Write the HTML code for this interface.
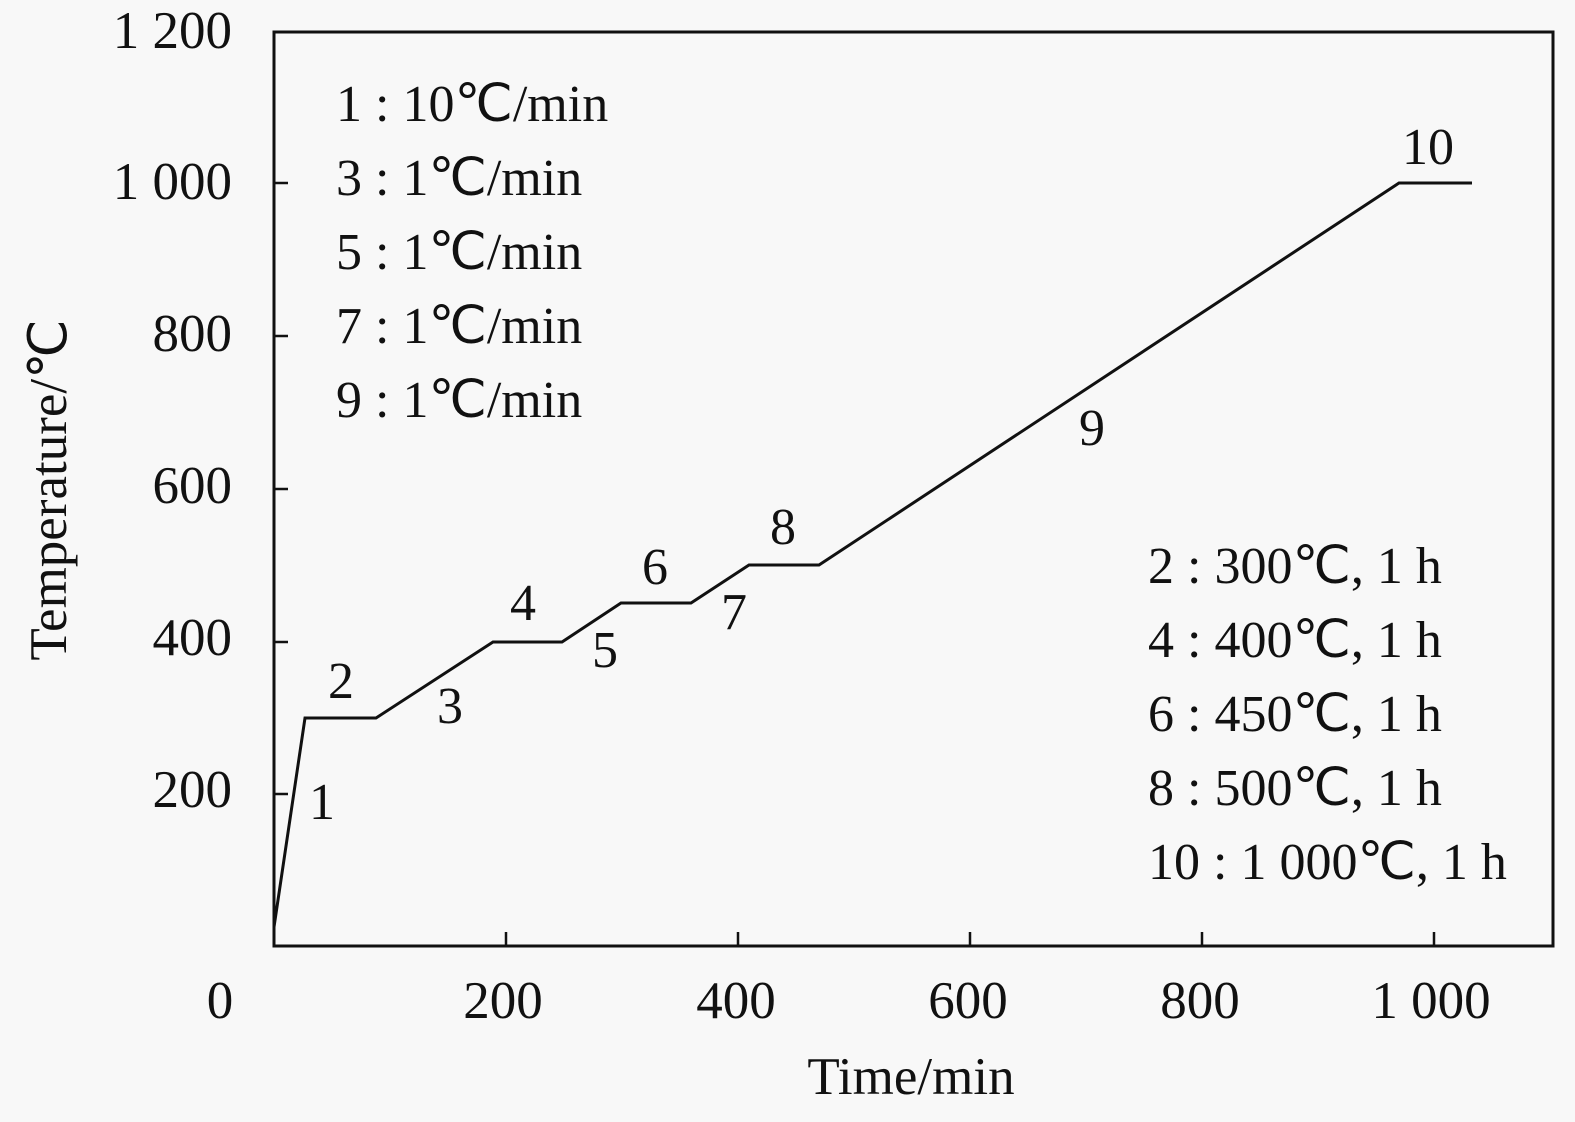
<!DOCTYPE html>
<html><head><meta charset="utf-8"><style>
html,body{margin:0;padding:0;background:#f8f8f8;}
svg text{font-family:"Liberation Serif","Times New Roman",serif;}
</style></head><body>
<svg width="1575" height="1117" viewBox="0 0 1575 1117" xmlns="http://www.w3.org/2000/svg">
<rect width="1575" height="1117" fill="#f8f8f8"/>
<rect x="274" y="32" width="1279" height="914" fill="none" stroke="#111" stroke-width="3"/>
<g stroke="#111" stroke-width="2.5">
<line x1="274" y1="794" x2="288" y2="794"/><line x1="274" y1="642" x2="288" y2="642"/>
<line x1="274" y1="489" x2="288" y2="489"/><line x1="274" y1="336" x2="288" y2="336"/>
<line x1="274" y1="183" x2="288" y2="183"/>
<line x1="506" y1="946" x2="506" y2="932"/><line x1="738" y1="946" x2="738" y2="932"/>
<line x1="970" y1="946" x2="970" y2="932"/><line x1="1202" y1="946" x2="1202" y2="932"/>
<line x1="1434" y1="946" x2="1434" y2="932"/>
</g>
<polyline fill="none" stroke="#111" stroke-width="3" points="274,927 305,718 376,718 493,642 562,642 621,603 691,603 749,565 819,565 1399,183 1472,183"/>
<g font-family="Liberation Serif, serif" font-size="53" fill="#111">
<g text-anchor="end">
<text x="232" y="48">1 200</text><text x="232" y="199">1 000</text>
<text x="232" y="351">800</text><text x="232" y="503">600</text>
<text x="232" y="655">400</text><text x="232" y="807">200</text>
</g>
<text x="220" y="1018" text-anchor="middle">0</text>
<g text-anchor="middle">
<text x="503" y="1018">200</text><text x="736" y="1018">400</text>
<text x="968" y="1018">600</text><text x="1200" y="1018">800</text>
<text x="1431" y="1018">1 000</text>
<text x="911" y="1094">Time/min</text>
</g>
<text transform="translate(66,490) rotate(-90)" text-anchor="middle">Temperature/℃</text>
<g font-size="52">
<text x="336" y="121">1 : 10℃/min</text>
<text x="336" y="195">3 : 1℃/min</text>
<text x="336" y="269">5 : 1℃/min</text>
<text x="336" y="343">7 : 1℃/min</text>
<text x="336" y="417">9 : 1℃/min</text>
<text x="1148" y="583">2 : 300℃, 1 h</text>
<text x="1148" y="657">4 : 400℃, 1 h</text>
<text x="1148" y="731">6 : 450℃, 1 h</text>
<text x="1148" y="805">8 : 500℃, 1 h</text>
<text x="1148" y="879">10 : 1 000℃, 1 h</text>
</g>
<g text-anchor="middle" font-size="52">
<text x="322" y="819">1</text><text x="341" y="698">2</text><text x="450" y="723">3</text>
<text x="523" y="620">4</text><text x="605" y="667">5</text><text x="655" y="584">6</text>
<text x="734" y="629">7</text><text x="783" y="544">8</text><text x="1092" y="445">9</text>
<text x="1428" y="164">10</text>
</g>
</g>
</svg>
</body></html>
